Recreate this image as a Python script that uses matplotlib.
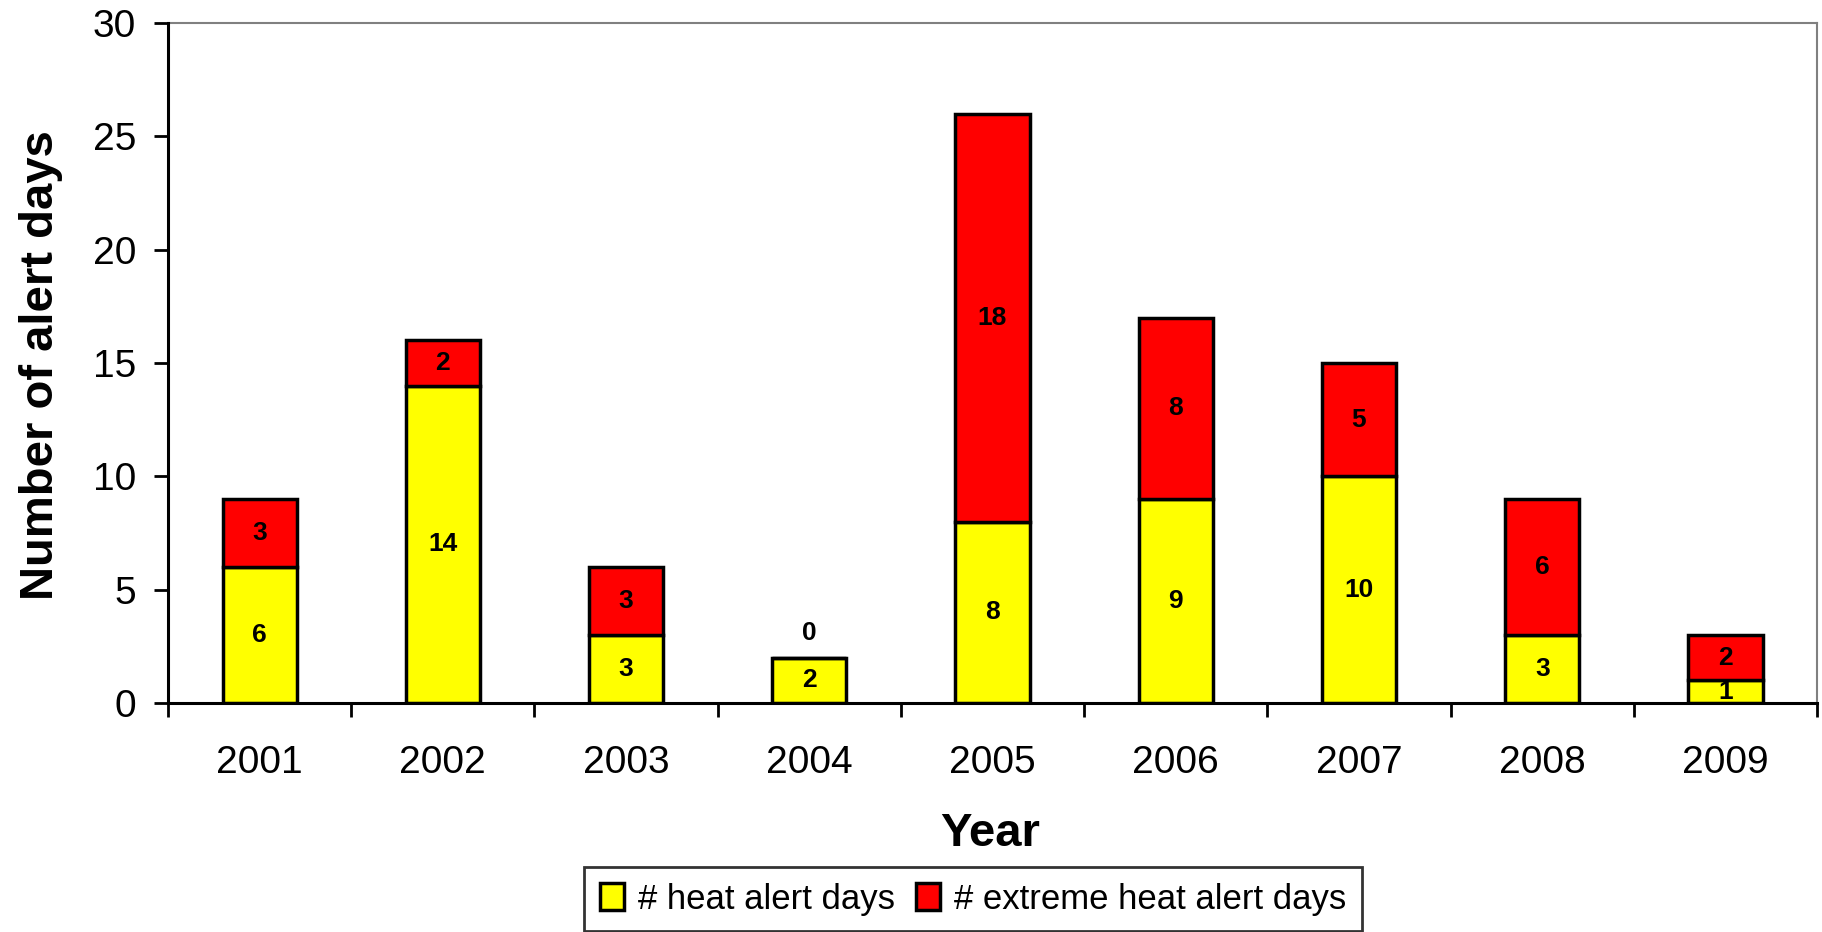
import matplotlib.pyplot as plt
import numpy as np

plt.rcParams['font.family'] = ['Liberation Sans', 'DejaVu Sans']

years = ["2001", "2002", "2003", "2004", "2005", "2006", "2007", "2008", "2009"]
heat_days = [6, 14, 3, 2, 8, 9, 10, 3, 1]
extreme_days = [3, 2, 3, 0, 18, 8, 5, 6, 2]

x = np.arange(len(years))
fig = plt.figure(figsize=(18.22, 9.32), dpi=100)
ax = fig.add_axes([0.0922, 0.2457, 0.9051, 0.7296])

b1 = ax.bar(x, heat_days, width=0.405, color="#FFFF00", edgecolor="black",
            linewidth=2.5, label="# heat alert days", zorder=3)
b2 = ax.bar(x, extreme_days, width=0.405, bottom=heat_days, color="#FF0000",
            edgecolor="black", linewidth=2.5, label="# extreme heat alert days", zorder=3)

# value labels
for i in range(len(years)):
    ax.text(x[i], heat_days[i] / 2, str(heat_days[i]), ha="center", va="center",
            fontsize=19, fontweight="bold", zorder=4)
    if extreme_days[i] == 0:
        ax.text(x[i], heat_days[i] + 1.1, "0", ha="center", va="center",
                fontsize=19, fontweight="bold", zorder=4)
    else:
        ax.text(x[i], heat_days[i] + extreme_days[i] / 2, str(extreme_days[i]),
                ha="center", va="center", fontsize=19, fontweight="bold", zorder=4)

ax.set_xlim(-0.5, len(years) - 0.5)
ax.set_ylim(0, 30)
ax.set_yticks(range(0, 31, 5))
ax.set_xticks(x)
ax.set_xticklabels(years)
ax.set_xticks(np.arange(-0.5, len(years), 1), minor=True)
ax.tick_params(axis="x", which="major", length=0, pad=30, labelsize=28)
ax.tick_params(axis="x", which="minor", length=10, width=2, direction="out")
ax.tick_params(axis="y", length=10, width=2, pad=13, labelsize=28)

for side in ["left", "bottom"]:
    ax.spines[side].set_linewidth(2.2)
    ax.spines[side].set_zorder(5)
for side in ["top", "right"]:
    ax.spines[side].set_color("#808080")
    ax.spines[side].set_linewidth(1.5)

fig.text(0.0225, 0.608, "Number of alert days", rotation=90, ha="center", va="center",
         fontsize=34, fontweight="bold")
fig.text(0.5437, 0.105, "Year", ha="center", va="center", fontsize=34, fontweight="bold")

leg = fig.legend(handles=[b1, b2], loc="center", bbox_to_anchor=(0.534, 0.0354), ncol=2,
                 fontsize=25, frameon=True, fancybox=False, edgecolor="black",
                 handlelength=0.7, handleheight=0.8, handletextpad=0.4,
                 columnspacing=0.6, borderpad=0.45, borderaxespad=0)
leg.get_frame().set_linewidth(2)

fig.savefig("out.png", dpi=100)
